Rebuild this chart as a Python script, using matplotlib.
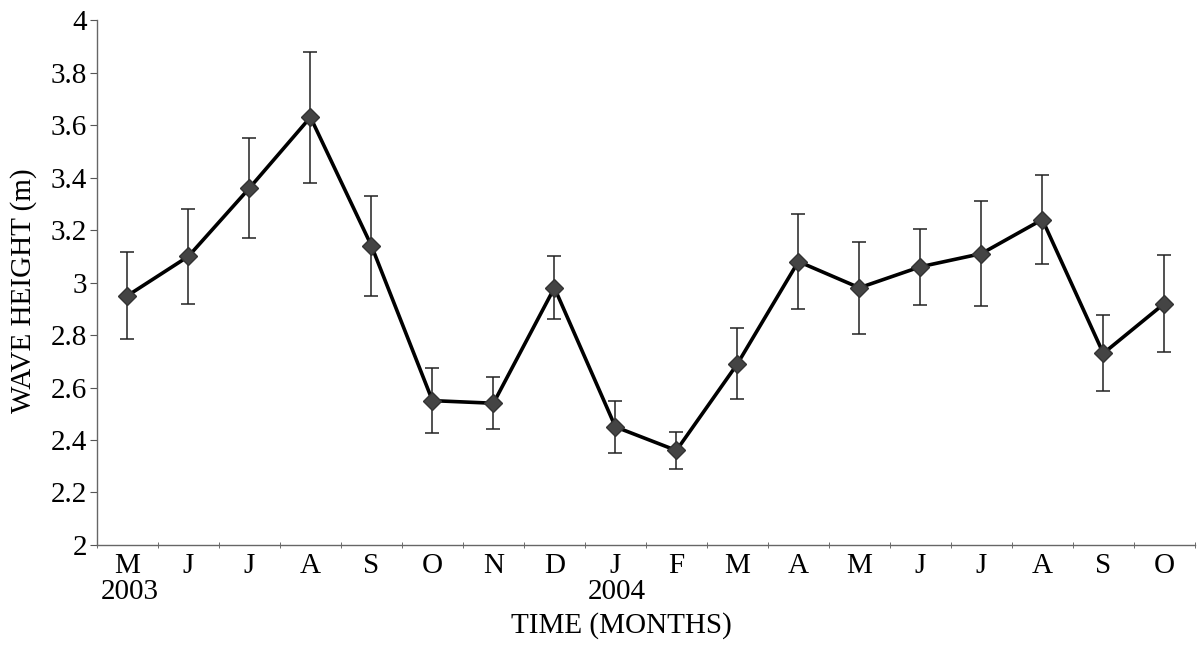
import numpy as np
import matplotlib
matplotlib.use("Agg")
import matplotlib.pyplot as plt
from matplotlib.ticker import FixedLocator

plt.rcParams['font.family'] = ['Liberation Serif', 'DejaVu Serif']

# monthly wave height, May 2003 - Oct 2004
months = ['M', 'J', 'J', 'A', 'S', 'O', 'N', 'D', 'J', 'F', 'M', 'A', 'M', 'J', 'J', 'A', 'S', 'O']
wave_height = [2.95, 3.10, 3.36, 3.63, 3.14, 2.55, 2.54, 2.98, 2.45, 2.36,
               2.69, 3.08, 2.98, 3.06, 3.11, 3.24, 2.73, 2.92]
err = [0.165, 0.18, 0.19, 0.25, 0.19, 0.125, 0.10, 0.12, 0.10, 0.07,
       0.135, 0.18, 0.175, 0.145, 0.20, 0.17, 0.145, 0.185]
years = {0: '2003', 8: '2004'}
y_ticks = [2, 2.2, 2.4, 2.6, 2.8, 3, 3.2, 3.4, 3.6, 3.8, 4]

fig = plt.figure(figsize=(12.02, 6.48), dpi=100)
ax = fig.add_axes([0.0807, 0.159, 0.9133, 0.81])

x = np.arange(len(months))
ax.errorbar(x, wave_height, yerr=err, fmt='none', ecolor='#222222',
            elinewidth=1.1, capsize=5, capthick=1.1, zorder=2)
ax.plot(x, wave_height, color='black', lw=2.6, zorder=3)
ax.plot(x, wave_height, ls='none', marker='D', ms=9, mfc='#444444',
        mec='#333333', zorder=4)

ax.set_xlim(-0.5, len(months) - 0.5)
ax.set_ylim(2, 4)
ax.set_yticks(y_ticks)
ax.set_yticklabels([f'{v:g}' for v in y_ticks])

ax.set_xticks(x)
ax.set_xticklabels(months)
ax.xaxis.set_minor_locator(FixedLocator(np.arange(-0.5, len(months), 1)))
ax.tick_params(axis='x', which='major', length=0, pad=6, labelsize=21)
ax.tick_params(axis='x', which='minor', length=5, direction='inout', color='#555555')
ax.tick_params(axis='y', length=5, direction='out', color='#555555', labelsize=21, pad=2)

for s in ['top', 'right']:
    ax.spines[s].set_visible(False)
for s in ['left', 'bottom']:
    ax.spines[s].set_color('#666666')
    ax.spines[s].set_linewidth(1.0)

for i, yr in years.items():
    ax.text(i + 0.03, -0.064, yr, transform=ax.get_xaxis_transform(), ha='center',
            va='top', fontsize=21)

ax.set_xlabel('TIME (MONTHS)', fontsize=21)
ax.xaxis.set_label_coords(0.478, -0.128)
ax.set_ylabel('WAVE HEIGHT (m)', fontsize=21)
ax.yaxis.set_label_coords(-0.055, 0.485)

fig.savefig('out.png', dpi=100, facecolor='white')
